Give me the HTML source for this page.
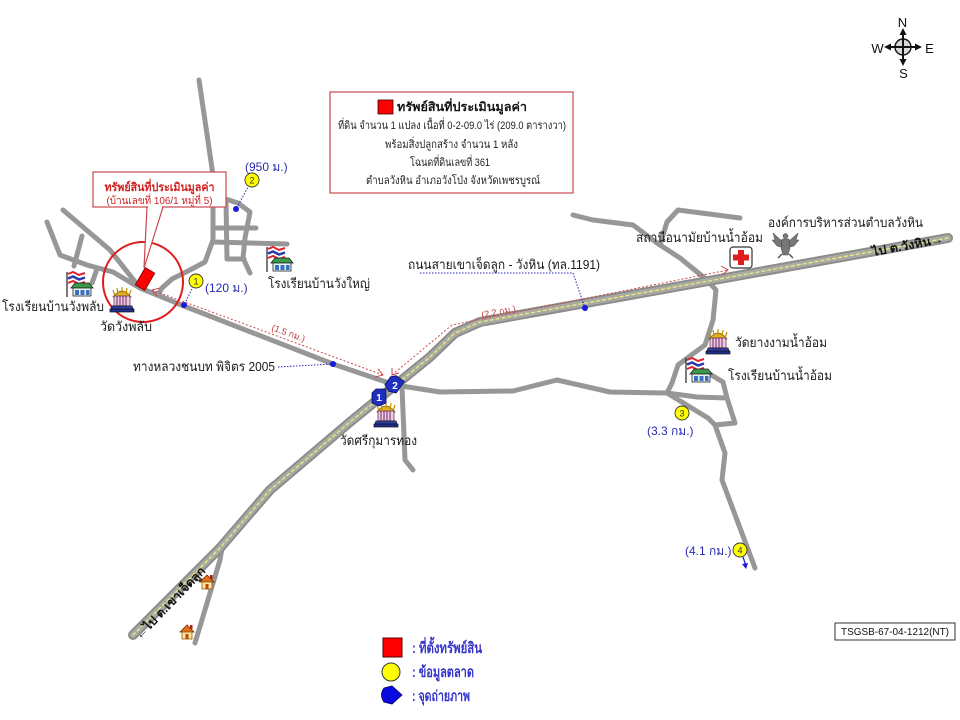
<!DOCTYPE html>
<html><head><meta charset="utf-8">
<style>
html,body{margin:0;padding:0;background:#fff;}
svg{display:block;}
text{font-family:"Liberation Sans","DejaVu Sans",sans-serif;}
</style></head>
<body>
<svg width="960" height="720" viewBox="0 0 960 720" xmlns="http://www.w3.org/2000/svg">
<defs>
  <g id="school">
    <line x1="2" y1="1" x2="2" y2="26" stroke="#333" stroke-width="1.3"/>
    <polyline points="3,3 8,1 14,4 20,2" fill="none" stroke="#e02030" stroke-width="2"/>
    <polyline points="3,5 8,3 14,6 20,4" fill="none" stroke="#fff" stroke-width="1.5"/>
    <polyline points="3,7.5 8,5.5 14,8.5 20,6.5" fill="none" stroke="#2a3aa8" stroke-width="2.5"/>
    <polyline points="3,10 8,8 14,11 20,9" fill="none" stroke="#fff" stroke-width="1.5"/>
    <polyline points="3,12 8,10 14,13 20,11" fill="none" stroke="#e02030" stroke-width="2"/>
    <polygon points="6,17 10,12 24,12 28,17" fill="#3a9a4a" stroke="#222" stroke-width="0.8"/>
    <rect x="8" y="17" width="18" height="8" fill="#e6f3f3" stroke="#222" stroke-width="0.8"/>
    <rect x="10" y="19" width="4" height="5" fill="#3a70c0"/>
    <rect x="15.5" y="19" width="4" height="5" fill="#3a70c0"/>
    <rect x="21" y="19" width="3.5" height="5" fill="#3a70c0"/>
  </g>
  <g id="temple">
    <path d="M3,10 Q12,-2 21,10 Z" fill="#e0b020" stroke="#7a5a00" stroke-width="0.7"/>
    <path d="M5,9 L3,3 M8,7 L7,1 M12,6 L12,0 M16,7 L17,1 M19,9 L21,3" stroke="#c89000" stroke-width="1.2"/>
    <rect x="4" y="9" width="16" height="10" fill="#f0c8e0" stroke="#502050" stroke-width="0.7"/>
    <path d="M7,9v10 M10,9v10 M13,9v10 M16,9v10" stroke="#6a306a" stroke-width="1"/>
    <polygon points="2,19 22,19 23,22 1,22" fill="#3040b0" stroke="#111" stroke-width="0.7"/>
    <rect x="0" y="22" width="24" height="3" fill="#203090" stroke="#111" stroke-width="0.7"/>
  </g>
  <g id="house">
    <rect x="10" y="0" width="2.5" height="4" fill="#b02010"/>
    <polygon points="0,7 7,0 14,7" fill="#e07020" stroke="#7a3000" stroke-width="0.8"/>
    <rect x="2" y="7" width="10" height="7" fill="#fbe6a0" stroke="#8a5a00" stroke-width="0.8"/>
    <rect x="5.5" y="9" width="3" height="5" fill="#c04010"/>
  </g>
</defs>

<!-- thin roads -->
<g fill="none" stroke="#979797" stroke-width="5" stroke-linecap="round" stroke-linejoin="round">
  <polyline points="199,80 213,175 213,240 205,262 190,270 172,279 162,288 158,295"/>
  <polyline points="213,195 238,203 250,212 245,238 243,258 250,273"/>
  <polyline points="226,201 227,259"/>
  <polyline points="213,228 256,228"/>
  <polyline points="213,242 287,244"/>
  <polyline points="227,259 244,259"/>
  <polyline points="63,210 110,250 140,288 184,306 333,364 395,385"/>
  <polyline points="47,222 60,255 87,265 113,272 140,288"/>
  <polyline points="82,236 74,266"/>
  <polyline points="97,269 92,283"/>
  <polyline points="395,385 440,392 513,391 557,380 610,392 667,393"/>
  <polyline points="402,387 405,460 413,470"/>
  <polyline points="222,548 220,560 195,643"/>
  <polyline points="573,215 593,220 633,225 657,243 680,258 707,280 716,290 713,320 705,345 690,356 678,365 672,383 667,393"/>
  <polyline points="740,218 678,210 667,222 660,245"/>
  <polyline points="667,393 697,397 727,398"/>
  <polyline points="667,393 708,418 715,425 735,423 727,398 723,382 708,373"/>
  <polyline points="715,425 725,453 722,480 755,568"/>
</g>

<!-- highway -->
<g fill="none" stroke-linecap="round" stroke-linejoin="round">
  <polyline points="133,635 220,548 270,490 350,422 430,357 455,333 480,322 948,238" stroke="#8c8c8c" stroke-width="10"/>
  <polyline points="133,635 220,548 270,490 350,422 430,357 455,333 480,322 948,238" stroke="#aaaaa4" stroke-width="6"/>
  <polyline points="133,635 220,548 270,490 350,422 430,357 455,333 480,322 948,238" stroke="#ecec78" stroke-width="1.3" stroke-dasharray="3 3"/>
</g>

<!-- red dashed distance arrows -->
<g fill="none" stroke="#d04848" stroke-width="1">
  <line x1="152" y1="290" x2="383" y2="375" stroke-dasharray="2 2"/>
  <polyline points="160,288 152,290 157,296"/>
  <polyline points="375,377 383,375 378,369"/>
  <polyline points="392,375 452,325 728,270" stroke-dasharray="2 2"/>
  <polyline points="392,368 392,375 399,373"/>
  <polyline points="721,266 728,270 722,275"/>
</g>
<text transform="translate(271,330) rotate(20)" font-size="9" fill="#c03838">(1.5 กม.)</text>
<text transform="translate(482,318) rotate(-11)" font-size="9" fill="#c03838">(2.2 กม.)</text>

<!-- highway end labels -->
<text transform="translate(140,640) rotate(-46)" font-size="12" font-weight="bold" fill="#111" textLength="95" lengthAdjust="spacingAndGlyphs">←ไป ต.เขาเจ็ดลูก</text>
<text transform="translate(873,256) rotate(-10.6)" font-size="12" font-weight="bold" fill="#111" textLength="72" lengthAdjust="spacingAndGlyphs">ไป ต.วังหิน→</text>

<!-- red circle & property -->
<circle cx="143" cy="282" r="40" fill="none" stroke="#e01c1c" stroke-width="2"/>
<rect x="139.5" y="269" width="11" height="20" fill="#ff0000" stroke="#700" stroke-width="0.8" transform="rotate(30 145 279)"/>

<!-- callout -->
<rect x="93" y="172" width="133" height="35" fill="#fff" stroke="#c84850" stroke-width="1.2"/>
<polygon points="147,207 163,207 144,268" fill="#fff" stroke="#c84850" stroke-width="1.2"/>
<line x1="148" y1="207" x2="162" y2="207" stroke="#fff" stroke-width="2"/>
<text x="159.5" y="191" font-size="11.5" font-weight="bold" fill="#d02020" text-anchor="middle" textLength="110" lengthAdjust="spacingAndGlyphs">ทรัพย์สินที่ประเมินมูลค่า</text>
<text x="159.5" y="204" font-size="10.5" fill="#d02020" text-anchor="middle" textLength="106" lengthAdjust="spacingAndGlyphs">(บ้านเลขที่ 106/1 หมู่ที่ 5)</text>

<!-- info box -->
<rect x="330" y="92" width="243" height="101" fill="#fff" stroke="#c84850" stroke-width="1.2"/>
<rect x="378" y="100" width="15" height="14" fill="#ff0000" stroke="#400" stroke-width="0.8"/>
<text x="397" y="111" font-size="12" font-weight="bold" fill="#111" textLength="130" lengthAdjust="spacingAndGlyphs">ทรัพย์สินที่ประเมินมูลค่า</text>
<text x="338" y="129" font-size="11" fill="#222" textLength="228" lengthAdjust="spacingAndGlyphs">ที่ดิน จำนวน 1 แปลง เนื้อที่ 0-2-09.0 ไร่ (209.0 ตารางวา)</text>
<text x="385" y="148" font-size="11" fill="#222" textLength="133" lengthAdjust="spacingAndGlyphs">พร้อมสิ่งปลูกสร้าง จำนวน 1 หลัง</text>
<text x="410" y="166" font-size="11" fill="#222" textLength="80" lengthAdjust="spacingAndGlyphs">โฉนดที่ดินเลขที่ 361</text>
<text x="366" y="184" font-size="11" fill="#222" textLength="174" lengthAdjust="spacingAndGlyphs">ตำบลวังหิน  อำเภอวังโป่ง  จังหวัดเพชรบูรณ์</text>

<!-- blue dotted leader lines -->
<g fill="none" stroke="#2828c0" stroke-width="1" stroke-dasharray="1.5 1.5">
  <line x1="252" y1="180" x2="236" y2="209"/>
  <line x1="196" y1="281" x2="184" y2="305"/>
  <line x1="278" y1="367" x2="333" y2="364"/>
  <polyline points="420,273 573,273 585,308"/>
</g>
<g fill="#1a1ad8">
  <circle cx="236" cy="209" r="3"/>
  <circle cx="184" cy="305" r="3"/>
  <circle cx="333" cy="364" r="3"/>
  <circle cx="585" cy="308" r="3"/>
</g>

<!-- yellow market markers -->
<g stroke="#333" stroke-width="0.9" fill="#ffff00">
  <circle cx="252" cy="180" r="7"/>
  <circle cx="196" cy="281" r="7"/>
  <circle cx="682" cy="413" r="7"/>
  <circle cx="740" cy="550" r="7"/>
</g>
<g font-size="9" fill="#333" text-anchor="middle">
  <text x="252" y="183.5">2</text>
  <text x="196" y="284.5">1</text>
  <text x="682" y="416.5">3</text>
  <text x="740" y="553.5">4</text>
</g>
<g font-size="12" fill="#2a2ab0">
  <text x="245" y="171">(950 ม.)</text>
  <text x="205" y="292">(120 ม.)</text>
  <text x="647" y="435">(3.3 กม.)</text>
  <text x="685" y="555">(4.1 กม.)</text>
</g>
<line x1="743" y1="557" x2="746" y2="566" stroke="#1a1ad8" stroke-width="1.2"/>
<polygon points="742,564 748,563 746,569" fill="#1a1ad8"/>

<!-- icons -->
<use href="#school" x="265" y="246"/>
<use href="#school" x="65" y="271"/>
<use href="#school" x="684" y="357"/>
<use href="#temple" x="110" y="287"/>
<use href="#temple" x="374" y="402"/>
<use href="#temple" x="706" y="329"/>
<use href="#house" x="200" y="575"/>
<use href="#house" x="180" y="625"/>

<!-- hospital -->
<rect x="730" y="247" width="22" height="21" rx="3" fill="#fff" stroke="#333" stroke-width="1.2"/>
<rect x="738" y="250" width="6" height="15" fill="#e01c1c"/>
<rect x="733" y="254.5" width="16" height="6" fill="#e01c1c"/>

<!-- garuda -->
<g fill="#777" stroke="#444" stroke-width="0.5">
  <circle cx="785.5" cy="236" r="2.5"/>
  <path d="M782,239 h7 l1,9 l-2,7 h-5 l-2,-7 z"/>
  <path d="M782,241 L773,233 L775,240 L772,240 L777,246 L781,247 Z"/>
  <path d="M789,241 L798,233 L796,240 L799,240 L794,246 L790,247 Z"/>
  <path d="M782,254 L778,258 M789,254 L793,258" stroke="#555" stroke-width="1.5"/>
</g>

<!-- photo markers -->
<g transform="translate(379,397)">
  <path d="M-7,-4 L-3,-8 L7,-8 L7,6 L0,9 L-7,6 Z" fill="#1f2fc0" stroke="#0a1060" stroke-width="0.8"/>
  <text x="0" y="4" font-size="10" font-weight="bold" fill="#fff" text-anchor="middle">1</text>
</g>
<g transform="translate(394,384) rotate(35)">
  <path d="M-7,-4 L-3,-8 L7,-8 L7,6 L0,9 L-7,6 Z" fill="#1f2fc0" stroke="#0a1060" stroke-width="0.8"/>
</g>
<text x="395" y="389" font-size="10" font-weight="bold" fill="#fff" text-anchor="middle">2</text>

<!-- map labels -->
<g font-size="13" fill="#1a1a1a">
  <text x="268" y="288" textLength="102" lengthAdjust="spacingAndGlyphs">โรงเรียนบ้านวังใหญ่</text>
  <text x="2" y="311" textLength="102" lengthAdjust="spacingAndGlyphs">โรงเรียนบ้านวังพลับ</text>
  <text x="100" y="331" textLength="52" lengthAdjust="spacingAndGlyphs">วัดวังพลับ</text>
  <text x="340" y="445" textLength="77" lengthAdjust="spacingAndGlyphs">วัดศรีกุมารทอง</text>
  <text x="133" y="371" textLength="142" lengthAdjust="spacingAndGlyphs">ทางหลวงชนบท พิจิตร 2005</text>
  <text x="408" y="269" textLength="192" lengthAdjust="spacingAndGlyphs">ถนนสายเขาเจ็ดลูก - วังหิน (ทล.1191)</text>
  <text x="636" y="242" textLength="127" lengthAdjust="spacingAndGlyphs">สถานีอนามัยบ้านน้ำอ้อม</text>
  <text x="768" y="227" textLength="155" lengthAdjust="spacingAndGlyphs">องค์การบริหารส่วนตำบลวังหิน</text>
  <text x="735" y="347" textLength="92" lengthAdjust="spacingAndGlyphs">วัดยางงามน้ำอ้อม</text>
  <text x="728" y="380" textLength="104" lengthAdjust="spacingAndGlyphs">โรงเรียนบ้านน้ำอ้อม</text>
</g>

<!-- compass -->
<g>
  <circle cx="903" cy="47" r="8" fill="#d8d8d8" stroke="#111" stroke-width="1.4"/>
  <line x1="903" y1="32" x2="903" y2="62" stroke="#111" stroke-width="2"/>
  <line x1="888" y1="47" x2="918" y2="47" stroke="#111" stroke-width="2"/>
  <polygon points="903,28 899.5,35 906.5,35" fill="#111"/>
  <polygon points="903,66 899.5,59 906.5,59" fill="#111"/>
  <polygon points="884,47 891,43.5 891,50.5" fill="#111"/>
  <polygon points="922,47 915,43.5 915,50.5" fill="#111"/>
  <g font-size="13" fill="#111" text-anchor="middle">
    <text x="902.5" y="27">N</text>
    <text x="903.5" y="78">S</text>
    <text x="877.5" y="53">W</text>
    <text x="929.5" y="53">E</text>
  </g>
</g>

<!-- code box -->
<rect x="835" y="623" width="120" height="17" fill="#fff" stroke="#333" stroke-width="1"/>
<text x="895" y="635" font-size="10" fill="#111" text-anchor="middle" textLength="108" lengthAdjust="spacingAndGlyphs">TSGSB-67-04-1212(NT)</text>

<!-- legend -->
<rect x="383" y="638" width="19" height="19" fill="#ff0000" stroke="#500" stroke-width="1"/>
<circle cx="391" cy="672" r="9" fill="#ffff00" stroke="#333" stroke-width="1"/>
<path d="M384,688 L392,686 L402,695 L392,704 L384,702 Q379,695 384,688 Z" fill="#0a0ae0" stroke="#000060" stroke-width="0.8"/>
<g font-size="15" font-weight="bold" fill="#3434cc">
  <text x="412" y="653" textLength="70" lengthAdjust="spacingAndGlyphs">: ที่ตั้งทรัพย์สิน</text>
  <text x="412" y="677" textLength="62" lengthAdjust="spacingAndGlyphs">: ข้อมูลตลาด</text>
  <text x="412" y="701" textLength="58" lengthAdjust="spacingAndGlyphs">: จุดถ่ายภาพ</text>
</g>
</svg>
</body></html>
